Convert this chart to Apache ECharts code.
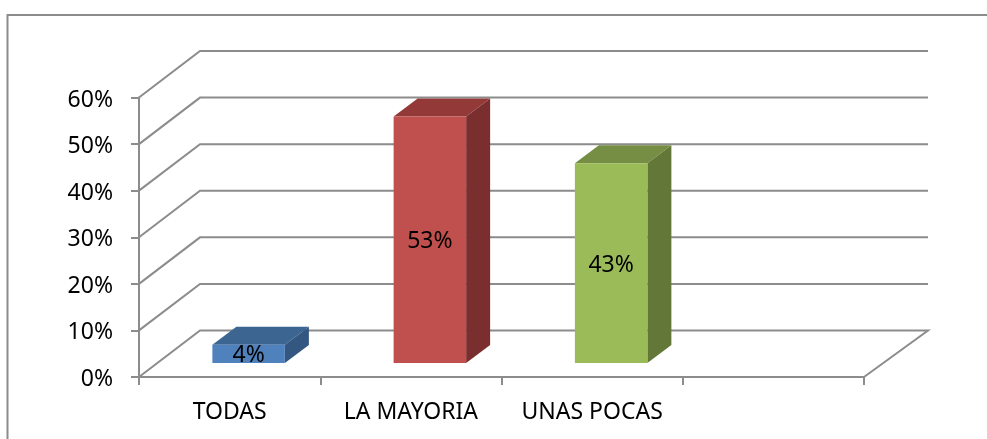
<!DOCTYPE html>
<html><head><meta charset="utf-8">
<style>html,body{margin:0;padding:0;background:#fff}#c{width:987px;height:439px}</style>
<script src="https://cdn.jsdelivr.net/npm/echarts@6/dist/echarts.min.js"></script>
</head><body><div id="c"></div>
<script>
var categories = ['TODAS', 'LA MAYORIA', 'UNAS POCAS', ''];
var values = [4, 53, 43];
var ticks = [0, 10, 20, 30, 40, 50, 60];
var frontColors = ['#4f81bd', '#c0504d', '#9bbb59'];
var topColors = ['#3d6591', '#933a38', '#768e44'];
var sideColors = ['#335780', '#7a2f2e', '#637838'];

var GRID = '#8c8c8c', FONT = '"Noto Sans", Arial, sans-serif', LW = 2;
var chart = echarts.init(document.getElementById('c'), null, {renderer: 'canvas'});

function wall(params, api) {
  var cs = params.coordSys, v = api.value(0);
  var y = api.coord([0, v])[1];
  var x0 = cs.x, x1 = cs.x + cs.width;
  var pts = [[x0, y], [x0 + 61, y - 46.5], [x1 + 64, y - 46.5]];
  if (v === 0) pts.push([x1, y]);
  return {type: 'polyline', silent: true, shape: {points: pts},
    style: {stroke: GRID, lineWidth: LW, fill: null}};
}
function bar3d(params, api) {
  var i = params.dataIndex;
  var top = api.coord([api.value(0), api.value(1)]);
  var base = api.coord([api.value(0), 0]);
  var bw = 72.5, fx = 19, fy = -14, dx = 24, dy = -18;
  var l = top[0] + fx - bw / 2, r = l + bw, t = top[1] + fy + 0.5, b = base[1] + fy;
  function poly(p, c) { return {type: 'polygon', shape: {points: p}, style: {fill: c}}; }
  return {type: 'group', children: [
    poly([[l, t], [r, t], [r + dx, t + dy], [l + dx, t + dy]], topColors[i]),
    poly([[r, t], [r + dx, t + dy], [r + dx, b + dy], [r, b]], sideColors[i]),
    poly([[l, t], [r, t], [r, b], [l, b]], frontColors[i]),
    {type: 'text', style: {x: (l + r) / 2, y: (t + b) / 2 + 2, text: api.value(1) + '%',
      fill: '#000', font: '23px ' + FONT, textAlign: 'center', textVerticalAlign: 'middle'}}
  ]};
}
chart.setOption({
  animation: false,
  backgroundColor: '#fff',
  graphic: [{type: 'polyline', silent: true, shape: {points: [[7.5, 439], [7.5, 15], [987, 15]]},
    style: {stroke: GRID, lineWidth: LW, fill: null}}],
  grid: {left: 139, right: 123, top: 97.5, bottom: 62},
  xAxis: {type: 'category', data: categories, boundaryGap: true,
    axisLine: {show: true, lineStyle: {color: GRID, width: LW}},
    axisTick: {show: true, length: 8, alignWithLabel: false, lineStyle: {color: GRID, width: LW}},
    axisLabel: {color: '#000', fontFamily: FONT, fontSize: 23, margin: 24, interval: 0}},
  yAxis: {type: 'value', min: 0, max: 60, interval: 10,
    splitLine: {show: false},
    axisLine: {show: true, lineStyle: {color: GRID, width: LW}},
    axisTick: {show: true, length: 8, lineStyle: {color: GRID, width: LW}},
    axisLabel: {color: '#000', fontFamily: FONT, fontSize: 23, margin: 26, formatter: '{v|{value}%}',
      rich: {v: {color: '#000', fontFamily: FONT, fontSize: 23, padding: [5, 0, 0, 0]}}}},
  series: [
    {type: 'custom', coordinateSystem: 'cartesian2d', renderItem: wall, z: 1, silent: true,
      encode: {y: 0}, data: ticks.map(function (t) { return [t]; })},
    {type: 'custom', coordinateSystem: 'cartesian2d', renderItem: bar3d, z: 2, silent: true,
      encode: {x: 0, y: 1}, data: values.map(function (v, i) { return [i, v]; })}
  ]
});
</script></body></html>
